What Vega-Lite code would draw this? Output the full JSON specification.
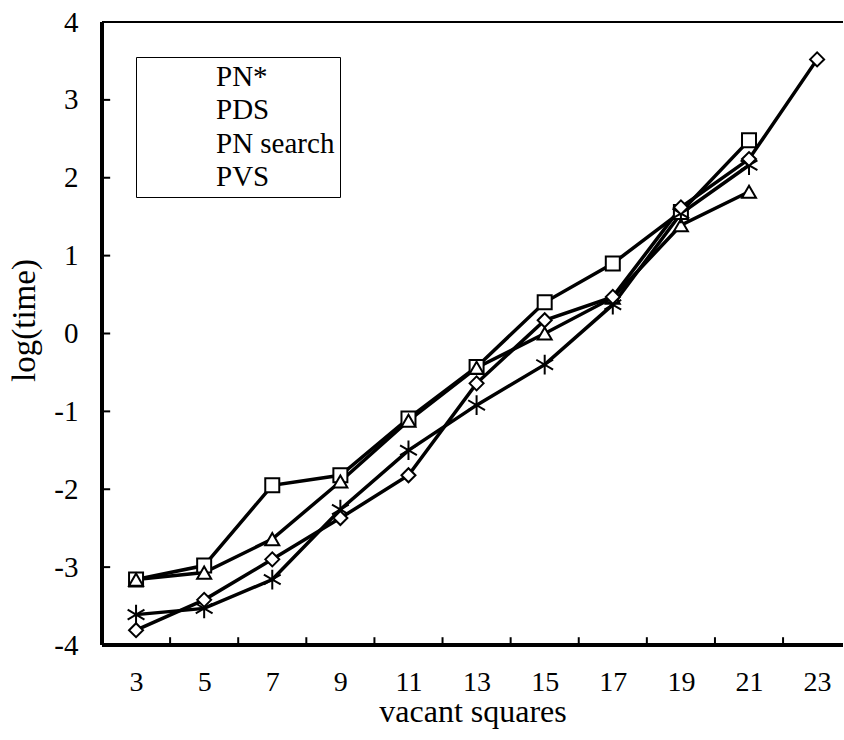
{
  "$schema": "https://vega.github.io/schema/vega-lite/v6.json",
  "width": 741,
  "height": 623,
  "autosize": "none",
  "padding": {"left": 102, "top": 22, "right": 1, "bottom": 95},
  "background": "white",
  "config": {"view": {"stroke": null}, "font": "Liberation Serif"},
  "datasets": {
    "times": [
      {"series": "PN*", "x": 3, "y": -3.16},
      {"series": "PN*", "x": 5, "y": -2.98},
      {"series": "PN*", "x": 7, "y": -1.95},
      {"series": "PN*", "x": 9, "y": -1.82},
      {"series": "PN*", "x": 11, "y": -1.09},
      {"series": "PN*", "x": 13, "y": -0.43},
      {"series": "PN*", "x": 15, "y": 0.40},
      {"series": "PN*", "x": 17, "y": 0.90},
      {"series": "PN*", "x": 19, "y": 1.56},
      {"series": "PN*", "x": 21, "y": 2.48},
      {"series": "PDS", "x": 3, "y": -3.16},
      {"series": "PDS", "x": 5, "y": -3.07},
      {"series": "PDS", "x": 7, "y": -2.64},
      {"series": "PDS", "x": 9, "y": -1.90},
      {"series": "PDS", "x": 11, "y": -1.12},
      {"series": "PDS", "x": 13, "y": -0.44},
      {"series": "PDS", "x": 15, "y": 0.00},
      {"series": "PDS", "x": 17, "y": 0.46},
      {"series": "PDS", "x": 19, "y": 1.39},
      {"series": "PDS", "x": 21, "y": 1.82},
      {"series": "PN search", "x": 3, "y": -3.61},
      {"series": "PN search", "x": 5, "y": -3.53},
      {"series": "PN search", "x": 7, "y": -3.16},
      {"series": "PN search", "x": 9, "y": -2.26},
      {"series": "PN search", "x": 11, "y": -1.50},
      {"series": "PN search", "x": 13, "y": -0.92},
      {"series": "PN search", "x": 15, "y": -0.40},
      {"series": "PN search", "x": 17, "y": 0.37},
      {"series": "PN search", "x": 19, "y": 1.54},
      {"series": "PN search", "x": 21, "y": 2.16},
      {"series": "PVS", "x": 3, "y": -3.81},
      {"series": "PVS", "x": 5, "y": -3.42},
      {"series": "PVS", "x": 7, "y": -2.90},
      {"series": "PVS", "x": 9, "y": -2.37},
      {"series": "PVS", "x": 11, "y": -1.82},
      {"series": "PVS", "x": 13, "y": -0.64},
      {"series": "PVS", "x": 15, "y": 0.17},
      {"series": "PVS", "x": 17, "y": 0.47},
      {"series": "PVS", "x": 19, "y": 1.62},
      {"series": "PVS", "x": 21, "y": 2.24},
      {"series": "PVS", "x": 23, "y": 3.52}
    ],
    "xticks": [{"tick": 4}, {"tick": 6}, {"tick": 8}, {"tick": 10}, {"tick": 12}, {"tick": 14}, {"tick": 16}, {"tick": 18}, {"tick": 20}, {"tick": 22}],
    "yticks": [{"tick": -3}, {"tick": -2}, {"tick": -1}, {"tick": 0}, {"tick": 1}, {"tick": 2}, {"tick": 3}]
  },
  "data": {"name": "times"},
  "layer": [
    {
      "mark": {"type": "rule", "color": "black", "strokeWidth": 2},
      "encoding": {"y": {"datum": 4, "type": "quantitative", "title": "log(time)"}}
    },
    {
      "mark": {"type": "rule", "color": "black", "strokeWidth": 2.5},
      "encoding": {"y": {"datum": -4, "type": "quantitative", "title": "log(time)"}}
    },
    {
      "mark": {"type": "rule", "color": "black", "strokeWidth": 2.5},
      "encoding": {"x": {"datum": 2, "type": "quantitative", "title": "vacant squares"}}
    },
    {
      "data": {"name": "xticks"},
      "mark": {"type": "rule", "color": "black", "strokeWidth": 2},
      "encoding": {
        "x": {"field": "tick", "type": "quantitative", "title": "vacant squares"},
        "y": {"datum": -4, "type": "quantitative", "title": "log(time)"},
        "y2": {"datum": -3.9}
      }
    },
    {
      "data": {"name": "yticks"},
      "mark": {"type": "rule", "color": "black", "strokeWidth": 2},
      "encoding": {
        "y": {"field": "tick", "type": "quantitative", "title": "log(time)"},
        "x": {"datum": 2, "type": "quantitative", "title": "vacant squares"},
        "x2": {"datum": 2.24}
      }
    },
    {
      "mark": {"type": "line", "color": "black", "strokeWidth": 3.5},
      "encoding": {
        "x": {
          "field": "x", "type": "quantitative",
          "scale": {"domain": [2, 23.76], "nice": false, "zero": false},
          "title": "vacant squares",
          "axis": {
            "title": "vacant squares",
            "values": [3,5,7,9,11,13,15,17,19,21,23],
            "labelExpr": "'' + datum.value",
            "domain": false,
            "ticks": false,
            "grid": false,
            "labelFont": "Liberation Serif", "labelFontSize": 28, "labelColor": "black",
            "labelPadding": 23, "labelFlush": false, "labelOverlap": false,
            "titleFont": "Liberation Serif", "titleFontSize": 32, "titleFontWeight": "normal",
            "titleColor": "black", "titleY": 76, "titleBaseline": "alphabetic"
          }
        },
        "y": {
          "field": "y", "type": "quantitative",
          "scale": {"domain": [-4, 4], "nice": false, "zero": false},
          "title": "log(time)",
          "axis": {
            "title": "log(time)",
            "values": [-4,-3,-2,-1,0,1,2,3,4],
            "labelExpr": "'' + datum.value",
            "domain": false,
            "ticks": false,
            "grid": false,
            "labelFont": "Liberation Serif", "labelFontSize": 29, "labelColor": "black",
            "labelPadding": 24, "labelFlush": false, "labelOverlap": false,
            "titleFont": "Liberation Serif", "titleFontSize": 33, "titleFontWeight": "normal",
            "titleColor": "black", "titleX": -68, "titleY": 298, "titleBaseline": "alphabetic"
          }
        },
        "detail": {"field": "series"}
      }
    },
    {
      "mark": {"type": "point", "filled": false, "fill": "white", "stroke": "black", "strokeWidth": 2, "size": 196, "opacity": 1},
      "encoding": {
        "x": {"field": "x", "type": "quantitative", "title": "vacant squares"},
        "y": {"field": "y", "type": "quantitative", "title": "log(time)"},
        "shape": {
          "field": "series", "type": "nominal",
          "scale": {
            "domain": ["PN*", "PDS", "PN search", "PVS"],
            "range": ["square", "triangle-up", "M0,-1.4V1.4M-1.2,-0.7L1.2,0.7M-1.2,0.7L1.2,-0.7", "diamond"]
          },
          "legend": {
            "title": null,
            "orient": "none", "legendX": 34, "legendY": 35,
            "strokeColor": "black", "fillColor": "white",
            "padding": 5, "rowPadding": 3.5,
            "labelFont": "Liberation Serif", "labelFontSize": 29, "labelColor": "black",
            "symbolSize": 150, "symbolStrokeColor": "black", "symbolFillColor": "white", "symbolStrokeWidth": 2,
            "symbolOffset": 22, "labelOffset": 24
          }
        }
      }
    }
  ]
}
